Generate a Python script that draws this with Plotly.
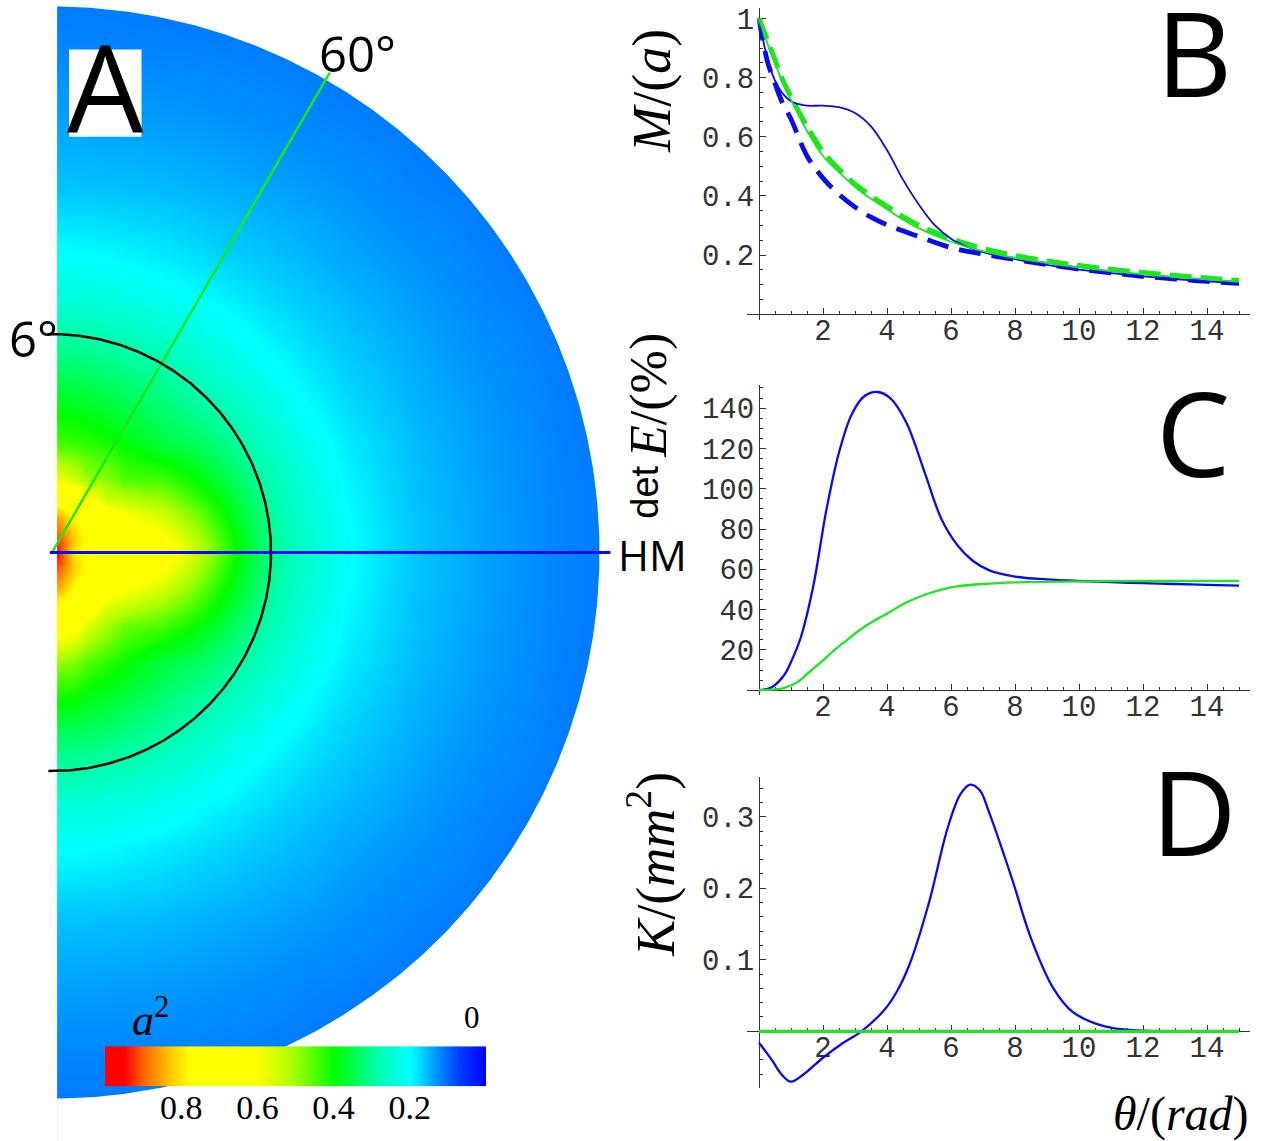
import plotly.graph_objects as go
import numpy as np

W, H = 1267, 1141

# ---------------- Panel A : a^2 field (values in thousandths) ----------------
field_x = [0, 0.3, 0.6, 1, 1.5, 2, 3, 4, 5, 6, 7, 8, 10, 12, 14, 16]
field_y = [-16, -14, -12, -10, -8, -7, -6, -5, -4, -3, -2, -1.5, -1, -0.6, -0.3, 0,
           0.3, 0.6, 1, 1.5, 2, 3, 4, 5, 6, 7, 8, 10, 12, 14, 16]
N = None
a2_field = [
    [110, 110, 110, 110, 110, 109, 109, 108, N, N, N, N, N, N, N, N],
    [120, 120, 120, 120, 120, 119, 118, 117, 116, 114, 112, 109, N, N, N, N],
    [140, 140, 140, 140, 139, 138, 136, 134, 130, 126, 121, 118, 112, N, N, N],
    [163, 163, 163, 162, 161, 160, 157, 152, 148, 143, 138, 132, 119, 112, N, N],
    [205, 205, 204, 203, 201, 197, 190, 181, 172, 163, 155, 146, 132, 118, 109, N],
    [240, 240, 239, 237, 233, 228, 216, 201, 188, 176, 165, 155, 138, 121, 112, N],
    [290, 289, 288, 285, 279, 272, 252, 229, 207, 190, 176, 163, 143, 126, 114, N],
    [340, 338, 336, 332, 324, 315, 294, 266, 233, 207, 188, 172, 148, 130, 116, N],
    [410, 406, 401, 385, 372, 357, 328, 299, 268, 231, 201, 181, 152, 134, 117, 108],
    [500, 493, 484, 450, 430, 405, 362, 340, 303, 257, 218, 190, 157, 136, 118, 109],
    [660, 648, 629, 560, 515, 470, 448, 400, 341, 282, 233, 197, 160, 138, 119, 109],
    [780, 756, 722, 650, 560, 540, 500, 437, 361, 292, 239, 200, 161, 139, 120, 110],
    [870, 833, 776, 699, 644, 604, 552, 474, 380, 300, 244, 203, 162, 140, 120, 110],
    [910, 870, 817, 759, 692, 647, 597, 504, 394, 305, 247, 204, 163, 140, 120, 110],
    [950, 901, 825, 767, 715, 684, 629, 523, 403, 308, 249, 205, 163, 140, 120, 110],
    [1000, 900, 800, 760, 730, 710, 660, 540, 410, 310, 250, 205, 163, 140, 120, 110],
    [950, 901, 825, 767, 715, 684, 629, 523, 403, 308, 249, 205, 163, 140, 120, 110],
    [910, 870, 817, 759, 692, 647, 597, 504, 394, 305, 247, 204, 163, 140, 120, 110],
    [870, 833, 776, 699, 644, 604, 552, 474, 380, 300, 244, 203, 162, 140, 120, 110],
    [740, 716, 681, 625, 537, 526, 497, 435, 361, 292, 239, 200, 161, 139, 120, 110],
    [580, 576, 551, 499, 492, 451, 444, 398, 341, 282, 233, 197, 160, 138, 119, 109],
    [440, 438, 434, 426, 413, 397, 358, 340, 303, 257, 218, 190, 157, 136, 118, 109],
    [390, 389, 383, 377, 366, 353, 328, 299, 268, 231, 201, 181, 152, 134, 117, 108],
    [340, 338, 336, 332, 324, 315, 294, 266, 233, 207, 188, 172, 148, 130, 116, N],
    [290, 289, 288, 285, 279, 272, 252, 229, 207, 190, 176, 163, 143, 126, 114, N],
    [240, 240, 239, 237, 233, 228, 216, 201, 188, 176, 165, 155, 138, 121, 112, N],
    [205, 205, 204, 203, 201, 197, 190, 181, 172, 163, 155, 146, 132, 118, 109, N],
    [163, 163, 163, 162, 161, 160, 157, 152, 148, 143, 138, 132, 119, 112, N, N],
    [140, 140, 140, 140, 139, 138, 136, 134, 130, 126, 121, 118, 112, N, N, N],
    [120, 120, 120, 120, 120, 119, 118, 117, 116, 114, 112, 109, N, N, N, N],
    [110, 110, 110, 110, 110, 109, 109, 108, N, N, N, N, N, N, N, N],
]
disk_radius = 15
circle_radius = 6
ray_angle_deg = 60
ray_length = 15.22
hm_length = 15.3
field_left = 0.14

colorbar_stops = [0, 70, 140, 200, 290, 400, 510, 600, 780, 830, 900, 950, 1000]
colorbar_colors = ['rgb(0,0,255)', 'rgb(0,60,255)', 'rgb(0,160,255)', 'rgb(0,255,255)',
                   'rgb(0,255,170)', 'rgb(0,255,0)', 'rgb(170,255,0)', 'rgb(255,255,0)',
                   'rgb(255,255,0)', 'rgb(255,200,0)', 'rgb(255,100,0)', 'rgb(255,0,0)',
                   'rgb(255,0,0)']
colorbar_ticks = [800, 600, 400, 200]
colorbar_ticktext = ['0.8', '0.6', '0.4', '0.2']

# ---------------- Panel B : M/(a) ----------------
hm_solid_t = [0, 0.25, 0.5, 0.75, 1.0, 1.25, 1.5, 2.0, 2.5, 3.0, 3.5, 4.0, 4.5, 5.0, 5.5,
              6.0, 6.5, 7.0, 8.0, 9.0, 10, 11, 12, 13, 14, 15]
hm_solid_m = [1.0, 0.87, 0.79, 0.745, 0.72, 0.71, 0.705, 0.705, 0.70, 0.68, 0.635, 0.555,
              0.455, 0.37, 0.30, 0.255, 0.228, 0.21, 0.186, 0.167, 0.151, 0.139, 0.128,
              0.119, 0.111, 0.104]
hm_dash_t = [0, 0.25, 0.5, 0.75, 1.0, 1.5, 2.0, 2.5, 3.0, 3.5, 4.0, 5.0, 6.0, 7.0, 8.0,
             9, 10, 11, 12, 13, 14, 15]
hm_dash_m = [1.0, 0.86, 0.78, 0.71, 0.66, 0.535, 0.46, 0.405, 0.362, 0.328, 0.302, 0.262,
             0.225, 0.203, 0.185, 0.168, 0.152, 0.14, 0.128, 0.119, 0.111, 0.104]
d60_solid_t = [0, 0.25, 0.5, 0.75, 1.0, 1.5, 2.0, 2.5, 3.0, 3.5, 4.0, 4.5, 5.0, 6.0, 7.0,
               8.0, 9, 10, 11, 12, 13, 14, 15]
d60_solid_m = [1.0, 0.92, 0.85, 0.78, 0.725, 0.62, 0.535, 0.48, 0.43, 0.39, 0.355, 0.32,
               0.29, 0.245, 0.213, 0.19, 0.173, 0.158, 0.146, 0.135, 0.126, 0.118, 0.11]
d60_dash_t = [0, 0.25, 0.5, 0.75, 1, 1.5, 2, 2.5, 3, 3.5, 4, 4.5, 5, 6, 7, 8, 9, 10, 11,
              12, 13, 14, 15]
d60_dash_m = [1.0, 0.93, 0.86, 0.79, 0.735, 0.635, 0.55, 0.49, 0.44, 0.40, 0.365, 0.33,
              0.30, 0.255, 0.222, 0.198, 0.18, 0.165, 0.152, 0.141, 0.131, 0.122, 0.114]

# ---------------- Panel C : det E (%) ----------------
det_hm_t = [0, 0.4, 0.8, 1.0, 1.3, 1.7, 2.1, 2.5, 2.9, 3.3, 3.7, 4.1, 4.6, 5.2, 5.7, 6.2,
            6.7, 7.2, 8, 9, 10, 11, 12, 13, 14, 15]
det_hm_v = [0, 1.5, 7.8, 14, 25.9, 52, 89, 118, 137, 146, 148, 145, 133, 107, 85, 72, 64,
            59.5, 56.4, 55, 54.2, 53.6, 53.1, 52.7, 52.3, 51.9]
det_60_t = [0, 0.4, 0.8, 1.2, 1.6, 2.0, 2.4, 2.8, 3.2, 3.6, 4.0, 4.6, 5.2, 5.8, 6.2, 7.0,
            8.0, 9, 10, 11, 12, 13, 14, 15]
det_60_v = [0, 0.3, 1.2, 4, 9.4, 14.8, 20.5, 25.5, 30.5, 34.5, 38, 43.5, 47.5, 50.3, 51.5,
            52.7, 53.5, 53.8, 54, 54.1, 54.2, 54.2, 54.3, 54.3]

# ---------------- Panel D : K (mm^-2) ----------------
k_hm_t = [0, 0.4, 0.7, 1.0, 1.4, 2.0, 2.6, 3.2, 3.9, 4.3, 4.7, 5.3, 5.9, 6.3, 6.6, 6.9,
          7.2, 7.9, 8.5, 9.2, 9.8, 10.5, 11.1, 12, 13, 14, 15]
k_hm_v = [-0.016, -0.040, -0.060, -0.0705, -0.060, -0.037, -0.017, 0.0, 0.029, 0.055,
          0.093, 0.178, 0.285, 0.332, 0.345, 0.337, 0.305, 0.214, 0.13, 0.06, 0.027,
          0.011, 0.004, 0.001, 0.0, 0.0, 0.0]
k_60_t = [0, 15]
k_60_v = [0, 0]

x_ticks = [2, 4, 6, 8, 10, 12, 14]
b_ticks = [0.2, 0.4, 0.6, 0.8, 1.0]
b_ticktext = ['0.2', '0.4', '0.6', '0.8', '1']
c_ticks = [20, 40, 60, 80, 100, 120, 140]
d_ticks = [0.1, 0.2, 0.3]

# ---------------- styling ----------------
BLUE = '#0a0af0'
GREEN = '#1ee61e'
AXC = '#333333'


def fx(px):
    return px / W


def fy(py):
    return 1 - py / H


colorscale = [[s / 1000, c] for s, c in zip(colorbar_stops, colorbar_colors)]

fig = go.Figure()

# Panel A geometry (pixels): centre (52, 551), 36.5 px per unit
UNIT = 36.5
CX, CY = 52, 551
xa_range = [-CX / UNIT, (620 - CX) / UNIT]
ya_range = [(CY - H) / UNIT, CY / UNIT]

fig.add_trace(go.Heatmap(x=field_x, y=field_y, z=a2_field, zmin=0, zmax=1000,
                         colorscale=colorscale, zsmooth='best', connectgaps=True,
                         showscale=False, hoverinfo='skip', xaxis='x', yaxis='y'))

# white masks outside the half disk
phi = np.linspace(-np.pi / 2, np.pi / 2, 361)
y_edge = np.sqrt(disk_radius ** 2 - field_left ** 2)
mx = [field_left, field_left] + list(disk_radius * np.cos(phi[1:-1])) + [field_left, field_left, 30, 30]
my = [-30, -y_edge] + list(disk_radius * np.sin(phi[1:-1])) + [y_edge, 30, 30, -30]
fig.add_trace(go.Scatter(x=mx, y=my, fill='toself', fillcolor='white', mode='lines',
                         line=dict(width=0, color='white'), hoverinfo='skip',
                         showlegend=False, xaxis='x', yaxis='y'))
fig.add_trace(go.Scatter(x=[-5, field_left, field_left, -5], y=[-30, -30, 30, 30],
                         fill='toself', fillcolor='white', mode='lines',
                         line=dict(width=0, color='white'), hoverinfo='skip',
                         showlegend=False, xaxis='x', yaxis='y'))

ang = np.radians(ray_angle_deg)
fig.add_trace(go.Scatter(x=[0, ray_length * np.cos(ang)], y=[0, ray_length * np.sin(ang)],
                         mode='lines', line=dict(color=GREEN, width=2.5), hoverinfo='skip',
                         showlegend=False, xaxis='x', yaxis='y'))
arc_x = [-0.1] + list(circle_radius * np.cos(phi)) + [-0.1]
arc_y = [-circle_radius] + list(circle_radius * np.sin(phi)) + [circle_radius]
fig.add_trace(go.Scatter(x=arc_x, y=arc_y, mode='lines', line=dict(color='black', width=2.5),
                         hoverinfo='skip', showlegend=False, xaxis='x', yaxis='y'))
fig.add_trace(go.Scatter(x=[-0.06, hm_length], y=[0, 0], mode='lines',
                         line=dict(color=BLUE, width=3), hoverinfo='skip',
                         showlegend=False, xaxis='x', yaxis='y'))

# colour bar (custom, reversed)
fig.add_trace(go.Heatmap(x=colorbar_stops, y=[0, 1], z=[colorbar_stops, colorbar_stops],
                         zmin=0, zmax=1000, colorscale=colorscale, zsmooth='best',
                         showscale=False, hoverinfo='skip', xaxis='x5', yaxis='y5'))

# Panel B
fig.add_trace(go.Scatter(x=hm_dash_t, y=hm_dash_m, mode='lines', line_shape='spline',
                         line=dict(color=BLUE, width=4.8, dash='22px,11px'),
                         showlegend=False, xaxis='x2', yaxis='y2'))
fig.add_trace(go.Scatter(x=d60_dash_t, y=d60_dash_m, mode='lines', line_shape='spline',
                         line=dict(color=GREEN, width=5, dash='22px,9px'),
                         showlegend=False, xaxis='x2', yaxis='y2'))
fig.add_trace(go.Scatter(x=hm_solid_t, y=hm_solid_m, mode='lines', line_shape='spline',
                         line=dict(color=BLUE, width=1.8), showlegend=False,
                         xaxis='x2', yaxis='y2'))
fig.add_trace(go.Scatter(x=d60_solid_t, y=d60_solid_m, mode='lines', line_shape='spline',
                         line=dict(color=GREEN, width=1.8), showlegend=False,
                         xaxis='x2', yaxis='y2'))
# Panel C
fig.add_trace(go.Scatter(x=det_hm_t, y=det_hm_v, mode='lines', line_shape='spline',
                         line=dict(color=BLUE, width=2.3), showlegend=False,
                         xaxis='x3', yaxis='y3'))
fig.add_trace(go.Scatter(x=det_60_t, y=det_60_v, mode='lines', line_shape='spline',
                         line=dict(color=GREEN, width=2.3), showlegend=False,
                         xaxis='x3', yaxis='y3'))
# Panel D
fig.add_trace(go.Scatter(x=k_hm_t, y=k_hm_v, mode='lines', line_shape='spline',
                         line=dict(color=BLUE, width=2.3), showlegend=False,
                         xaxis='x4', yaxis='y4'))
fig.add_trace(go.Scatter(x=k_60_t, y=k_60_v, mode='lines',
                         line=dict(color=GREEN, width=3.2), showlegend=False,
                         xaxis='x4', yaxis='y4'))

tickfont = dict(family='Liberation Mono', size=29, color=AXC)
X0PX = 759
XPU = 32.0
x_dom = [fx(747), fx(1250)]
x_rng = [(747 - X0PX) / XPU, (1250 - X0PX) / XPU]


def xaxis_cfg(zero_py):
    return dict(domain=x_dom, range=x_rng, anchor='free', position=fy(zero_py),
                showline=True, linecolor=AXC, linewidth=1, zeroline=False, showgrid=False,
                tickmode='array', tickvals=x_ticks, ticktext=[str(v) for v in x_ticks],
                ticks='inside', ticklen=6, tickwidth=1, tickcolor=AXC, tickfont=tickfont,
                ticklabelstandoff=-10, layer='below traces',
                minor=dict(ticks='inside', ticklen=3, tickcolor=AXC, tickmode='linear',
                           tick0=0, dtick=0.5, showgrid=False))


def yaxis_cfg(top_py, bot_py, zero_py, ppu, tv, tt, mdt):
    return dict(domain=[fy(bot_py), fy(top_py)],
                range=[(zero_py - bot_py) / ppu, (zero_py - top_py) / ppu],
                anchor='free', position=fx(X0PX), showline=True, linecolor=AXC,
                linewidth=1, zeroline=False, showgrid=False, tickmode='array',
                tickvals=tv, ticktext=tt, ticks='inside', ticklen=6, tickwidth=1,
                tickcolor=AXC, tickfont=tickfont, ticklabelstandoff=-1, layer='below traces',
                minor=dict(ticks='inside', ticklen=3, tickcolor=AXC, tickmode='linear',
                           tick0=0, dtick=mdt, showgrid=False))


fig.update_layout(
    width=W, height=H, margin=dict(l=0, r=0, t=0, b=0),
    paper_bgcolor='white', plot_bgcolor='rgba(0,0,0,0)', showlegend=False,
    xaxis=dict(domain=[0, fx(620)], range=xa_range, visible=False, fixedrange=True),
    yaxis=dict(domain=[0, 1], range=ya_range, visible=False, fixedrange=True),
    xaxis2=xaxis_cfg(312),
    yaxis2=yaxis_cfg(5, 318, 312, 296.5, b_ticks, b_ticktext, 0.05),
    xaxis3=xaxis_cfg(689),
    yaxis3=yaxis_cfg(383, 694, 689, 2.02, c_ticks, [str(v) for v in c_ticks], 5),
    xaxis4=xaxis_cfg(1031),
    yaxis4=yaxis_cfg(776, 1088, 1031, 717.0, d_ticks, [str(v) for v in d_ticks], 0.02),
    xaxis5=dict(domain=[fx(105), fx(486)], range=[1000, 0], anchor='y5', showline=False,
                zeroline=False, showgrid=False, tickmode='array', tickvals=colorbar_ticks,
                ticktext=colorbar_ticktext, ticks='', ticklabelstandoff=-2,
                tickfont=dict(family='Liberation Serif', size=34, color='black')),
    yaxis5=dict(domain=[fy(1086), fy(1046)], range=[-0.5, 1.5], visible=False),
)

fig.add_shape(type='rect', xref='paper', yref='paper', x0=fx(69), x1=fx(141.5),
              y0=fy(134), y1=fy(46.6), fillcolor='white', line=dict(width=0), layer='above')


def ann(text, px, py, size, family, xanchor='center', angle=0, color='black'):
    fig.add_annotation(text=text, x=fx(px), y=fy(py), xref='paper', yref='paper',
                       showarrow=False, xanchor=xanchor, yanchor='middle', textangle=angle,
                       font=dict(size=size, family=family, color=color))


SANS = 'Open Sans'
SERIF = 'Liberation Serif'
ann('A', 105, 82, 121, SANS)
ann('B', 1194, 49, 118, SANS)
ann('C', 1193, 430, 118, SANS)
ann('D', 1194, 810, 118, SANS)
ann('60°', 357, 50, 49, SANS)
ann('6°', 33, 336, 49, SANS)
ann('HM', 616, 553, 42, SANS, xanchor='left')
ann('<i>M</i>/(<i>a</i>)', 652, 88, 54, SERIF, angle=-90)
ann('det', 645, 490, 38, 'Liberation Sans', angle=-90)
ann('<i>E</i>/(%)', 649, 394, 52, SERIF, angle=-90)
ann('<i>K</i>/(<i>mm</i><sup>2</sup>)', 652, 864, 54, SERIF, angle=-90)
ann('<i>θ</i>/(<i>rad</i>)', 1181, 1114, 48, SERIF)
ann('<i>a</i><sup>2</sup>', 150, 1017, 44, SERIF)
ann('0', 472, 1017, 31, SERIF)

fig.write_html('out.html', config={'displayModeBar': False},
               post_script="document.body.style.margin='0px';document.body.style.padding='0px';")
